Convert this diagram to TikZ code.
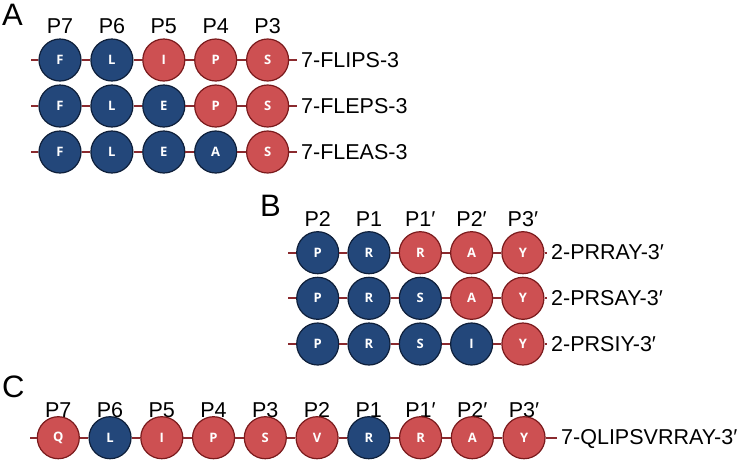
\documentclass[tikz,border=0pt]{standalone}
\usepackage{fontspec}
\setmainfont{Liberation Sans}
\newfontfamily\resfont{Open Sans}
\definecolor{bl}{HTML}{23477A}
\definecolor{blborder}{HTML}{0E1F3A}
\definecolor{rd}{HTML}{CD5052}
\definecolor{rdborder}{HTML}{7A1A1C}
\definecolor{ln}{HTML}{8A2A2E}
\tikzset{
  res/.style={circle, minimum size=42pt, inner sep=0pt, line width=1.2pt,
    font=\resfont\bfseries\fontsize{13}{13}\selectfont, text=white},
  B/.style={res, fill=bl, draw=blborder},
  R/.style={res, fill=rd, draw=rdborder},
  bond/.style={draw=ln, line width=2pt},
  poslab/.style={font=\fontsize{21.5}{21.5}\selectfont, anchor=base, inner sep=0pt},
  seqlab/.style={font=\fontsize{21.5}{21.5}\selectfont, anchor=base west, inner sep=0pt},
  panel/.style={font=\fontsize{31}{31}\selectfont, anchor=base west, inner sep=0pt}
}
% #1 prefix, #2 x0, #3 dx, #4 y, #5 list, #6 n, #7 xstart, #8 xend, #9 text
\newcommand\seqrow[9]{%
  \coordinate (#1-s) at (#7,#4);
  \coordinate (#1-e) at (#8,#4);
  \foreach [count=\i] \s/\l in {#5} {\node[\s] (#1-\i) at ({#2+(\i-1)*#3},#4) {\l};}
  \draw[bond] (#1-s) -- (#1-1);
  \foreach \i [evaluate=\i as \h using int(\i-1)] in {2,...,#6} {\draw[bond] (#1-\h) -- (#1-\i);}
  \draw[bond] (#1-#6) -- (#1-e);
  \node[seqlab] (#1-t) at ({#8+4},{#4+7}) {#9};
}
\begin{document}
\begin{tikzpicture}[x=1pt,y=-1pt]
\useasboundingbox (0,0) rectangle (744,459);
% Panel A
\node[panel] (pA) at (2,25) {A};
\foreach [count=\i] \p in {P7,P6,P5,P4,P3} {\node[poslab] (pa\i) at ({60+(\i-1)*51.9},33.5) {\p};}
\seqrow{a1}{60}{51.9}{60}{B/F,B/L,R/I,R/P,R/S}{5}{31}{297}{7-FLIPS-3}
\seqrow{a2}{60}{51.9}{106}{B/F,B/L,B/E,R/P,R/S}{5}{31}{297}{7-FLEPS-3}
\seqrow{a3}{60}{51.9}{152}{B/F,B/L,B/E,B/A,R/S}{5}{31}{297}{7-FLEAS-3}
% Panel B
\node[panel] (pB) at (260,216.7) {B};
\foreach [count=\i] \p in {P2,P1,P1′,P2′,P3′} {\node[poslab] (pb\i) at ({317.7+(\i-1)*51.3},226.7) {\p};}
\seqrow{b1}{317.7}{51.3}{252.7}{B/P,B/R,R/R,R/A,R/Y}{5}{288}{547}{2-PRRAY-3′}
\seqrow{b2}{317.7}{51.3}{298.3}{B/P,B/R,B/S,R/A,R/Y}{5}{288}{547}{2-PRSAY-3′}
\seqrow{b3}{317.7}{51.3}{344}{B/P,B/R,B/S,B/I,R/Y}{5}{288}{547}{2-PRSIY-3′}
% Panel C
\node[panel] (pC) at (2,397) {C};
\foreach [count=\i] \p in {P7,P6,P5,P4,P3,P2,P1,P1′,P2′,P3′} {\node[poslab] (pc\i) at ({58.3+(\i-1)*51.75},417.3) {\p};}
\seqrow{c1}{58.3}{51.75}{437.7}{R/Q,B/L,R/I,R/P,R/S,R/V,B/R,R/R,R/A,R/Y}{10}{30}{557}{7-QLIPSVRRAY-3′}
\end{tikzpicture}
\end{document}
